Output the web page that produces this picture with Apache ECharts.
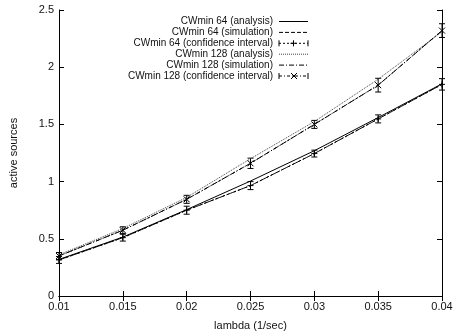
<!DOCTYPE html>
<html>
<head>
<meta charset="utf-8">
<script src="https://cdn.jsdelivr.net/npm/echarts@6/dist/echarts.min.js"></script>
<style>
  html, body { margin: 0; padding: 0; background: #fff; }
  #main { width: 460px; height: 336px; }
</style>
</head>
<body>
<div id="main"></div>
<script>
var lambdas = ['0.01', '0.015', '0.02', '0.025', '0.03', '0.035', '0.04'];
var yTicks = [0, 0.5, 1, 1.5, 2, 2.5];

var cw64Analysis = [0.32, 0.515, 0.755, 1.005, 1.27, 1.56, 1.855];
var cw64Sim = [0.315, 0.51, 0.75, 0.965, 1.245, 1.548, 1.85];
var cw64Err = [0.03, 0.03, 0.035, 0.035, 0.03, 0.035, 0.05];
var cw128Analysis = [0.36, 0.59, 0.862, 1.2, 1.525, 1.895, 2.31];
var cw128Sim = [0.35, 0.575, 0.845, 1.16, 1.5, 1.843, 2.32];
var cw128Err = [0.03, 0.03, 0.035, 0.045, 0.035, 0.06, 0.06];

var labels = [
  'CWmin 64 (analysis)',
  'CWmin 64 (simulation)',
  'CWmin 64 (confidence interval)',
  'CWmin 128 (analysis)',
  'CWmin 128 (simulation)',
  'CWmin 128 (confidence interval)'
];

var chartDom = document.getElementById('main');
var myChart = echarts.init(chartDom);
var font = 'Liberation Sans, Arial, sans-serif';

var plusPath = 'path://M0,-5L0,5M-5,0L5,0';
var crossPath = 'path://M-5,-5L5,5M-5,5L5,-5';

function errData(vals, errs) {
  return vals.map(function (v, i) { return [i, v - errs[i], v + errs[i]]; });
}

function renderErr(params, api) {
  var lo = api.coord([api.value(0), api.value(1)]);
  var hi = api.coord([api.value(0), api.value(2)]);
  var s = { stroke: '#000', lineWidth: 1 };
  return {
    type: 'group',
    children: [
      { type: 'line', shape: { x1: lo[0], y1: lo[1], x2: hi[0], y2: hi[1] }, style: s },
      { type: 'line', shape: { x1: lo[0] - 3, y1: lo[1], x2: lo[0] + 3, y2: lo[1] }, style: s },
      { type: 'line', shape: { x1: hi[0] - 3, y1: hi[1], x2: hi[0] + 3, y2: hi[1] }, style: s }
    ]
  };
}

function seg(x1, y1, x2, y2, dash, color) {
  return {
    type: 'line', shape: { x1: x1, y1: y1, x2: x2, y2: y2 },
    style: { stroke: color || '#000', lineWidth: 1, lineDash: dash || null }
  };
}

// legend drawn gnuplot-style: text right aligned, sample to the right
var dashes = [null, [4, 2], [2, 2], [1, 1], [5, 2, 1, 2], [3, 2, 1, 2]];
var legendEls = [];
labels.forEach(function (t, i) {
  var y = 21.5 + i * 10.9;
  legendEls.push({
    type: 'text', x: 273, y: y,
    style: { text: t, fill: '#111', font: '10px ' + font, textAlign: 'right', textVerticalAlign: 'middle' }
  });
  legendEls.push(seg(279, y, 308, y, dashes[i], i === 3 ? '#444' : '#000'));
  if (i === 2 || i === 5) {
    legendEls.push(seg(279, y - 3, 279, y + 3));
    legendEls.push(seg(308, y - 3, 308, y + 3));
    if (i === 2) {
      legendEls.push(seg(293.5, y - 3, 293.5, y + 3));
      legendEls.push(seg(290.5, y, 296.5, y));
    } else {
      legendEls.push(seg(291, y - 3, 297, y + 3));
      legendEls.push(seg(291, y + 3, 297, y - 3));
    }
  }
});

var axisLine = { show: true, lineStyle: { color: '#000', width: 1 } };
var axisTick = { show: true, inside: true, length: 5, lineStyle: { color: '#000' } };

var option = {
  animation: false,
  backgroundColor: '#fff',
  grid: { left: 57, right: 18, top: 10, bottom: 37 },
  graphic: legendEls,
  xAxis: [
    {
      type: 'category', data: lambdas, boundaryGap: false,
      name: 'lambda (1/sec)', nameLocation: 'middle', nameGap: 24,
      nameTextStyle: { fontFamily: font, fontSize: 11, color: '#111' },
      axisLine: axisLine, axisTick: axisTick,
      axisLabel: { fontFamily: font, fontSize: 11, color: '#111', margin: 5 },
      splitLine: { show: false }
    },
    {
      type: 'category', data: lambdas, boundaryGap: false, position: 'top',
      axisLine: axisLine, axisTick: axisTick, axisLabel: { show: false }, splitLine: { show: false }
    }
  ],
  yAxis: [
    {
      type: 'value', min: 0, max: 2.5, interval: 0.5,
      name: 'active sources', nameLocation: 'middle', nameGap: 40,
      nameTextStyle: { fontFamily: font, fontSize: 11, color: '#111' },
      axisLine: axisLine, axisTick: axisTick,
      axisLabel: { fontFamily: font, fontSize: 11, color: '#111', margin: 5 },
      splitLine: { show: false }
    },
    {
      type: 'value', min: 0, max: 2.5, interval: 0.5, position: 'right',
      axisLine: axisLine, axisTick: axisTick, axisLabel: { show: false }, splitLine: { show: false }
    }
  ],
  series: [
    {
      name: labels[0], type: 'line', data: cw64Analysis, showSymbol: false,
      lineStyle: { color: '#000', width: 1 }
    },
    {
      name: labels[1], type: 'line', data: cw64Sim, showSymbol: false,
      lineStyle: { color: '#000', width: 1, type: [4, 2] }
    },
    {
      name: labels[2], type: 'line', data: cw64Sim, symbol: plusPath, symbolSize: 6,
      itemStyle: { color: 'none', borderColor: '#000', borderWidth: 1 },
      lineStyle: { color: '#000', width: 1, type: [2, 2] }
    },
    {
      name: labels[2] + ' bars', type: 'custom', data: errData(cw64Sim, cw64Err), renderItem: renderErr, z: 3
    },
    {
      name: labels[3], type: 'line', data: cw128Analysis, showSymbol: false,
      lineStyle: { color: '#444', width: 1, type: [1, 1] }
    },
    {
      name: labels[4], type: 'line', data: cw128Sim, showSymbol: false,
      lineStyle: { color: '#000', width: 1, type: [5, 2, 1, 2] }
    },
    {
      name: labels[5], type: 'line', data: cw128Sim, symbol: crossPath, symbolSize: 6,
      itemStyle: { color: 'none', borderColor: '#000', borderWidth: 1 },
      lineStyle: { color: '#000', width: 1, type: [3, 2, 1, 2] }
    },
    {
      name: labels[5] + ' bars', type: 'custom', data: errData(cw128Sim, cw128Err), renderItem: renderErr, z: 3
    }
  ]
};

option && myChart.setOption(option);
</script>
</body>
</html>
